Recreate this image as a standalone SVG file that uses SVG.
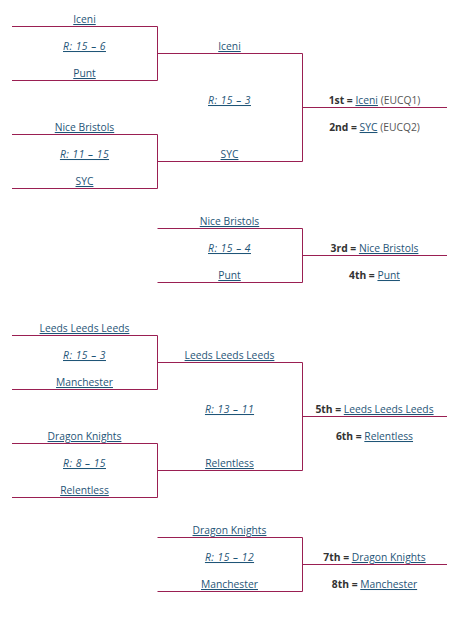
<svg xmlns="http://www.w3.org/2000/svg" width="457" height="619" viewBox="0 0 457 619">
<style>
.c line, .c polyline { stroke: #9a1f52; stroke-width: 1; fill: none; }
text { font-family: "Open Sans", "Noto Sans", "DejaVu Sans", sans-serif; font-size: 10.3px; text-anchor: middle; fill: #333333; }
.l { fill: #1f5577; text-decoration: underline; }
.s { fill: #1f5577; font-style: italic; text-decoration: underline; letter-spacing: 0.5px; }
.b { font-weight: bold; fill: #333333; }
.g { fill: #555555; }
</style>
<rect width="457" height="619" fill="#ffffff"/>
<g class="c" id="connectors">
  <polyline points="12,26.5 157.5,26.5 157.5,80.5 12,80.5"/>
  <polyline points="12,134.5 157.5,134.5 157.5,188.5 12,188.5"/>
  <polyline points="157.5,53.5 302.5,53.5 302.5,161.5 157.5,161.5"/>
  <line x1="302.5" y1="107.5" x2="447" y2="107.5"/>
  <polyline points="157.5,228.5 302.5,228.5 302.5,282.5 157.5,282.5"/>
  <line x1="302.5" y1="255.5" x2="447" y2="255.5"/>
  <polyline points="12,335.5 157.5,335.5 157.5,389.5 12,389.5"/>
  <polyline points="12,443.5 157.5,443.5 157.5,497.5 12,497.5"/>
  <polyline points="157.5,362.5 302.5,362.5 302.5,470.5 157.5,470.5"/>
  <line x1="302.5" y1="416.5" x2="447" y2="416.5"/>
  <polyline points="157.5,537.5 302.5,537.5 302.5,591.5 157.5,591.5"/>
  <line x1="302.5" y1="564.5" x2="447" y2="564.5"/>
</g>
<g id="m1">
  <text x="84.5" y="23" class="l">Iceni</text>
  <text x="84.5" y="50" class="s">R: 15 – 6</text>
  <text x="84.5" y="77" class="l">Punt</text>
</g>
<g id="m2">
  <text x="84.5" y="131" class="l">Nice Bristols</text>
  <text x="84.5" y="158" class="s">R: 11 – 15</text>
  <text x="84.5" y="185" class="l">SYC</text>
</g>
<g id="final">
  <text x="229.5" y="50" class="l">Iceni</text>
  <text x="229.5" y="104" class="s">R: 15 – 3</text>
  <text x="229.5" y="158" class="l">SYC</text>
</g>
<g id="result12">
  <text x="374.5" y="104"><tspan class="b">1st =</tspan> <tspan class="l">Iceni</tspan> <tspan class="g">(EUCQ1)</tspan></text>
  <text x="374.5" y="131"><tspan class="b">2nd =</tspan> <tspan class="l">SYC</tspan> <tspan class="g">(EUCQ2)</tspan></text>
</g>
<g id="third">
  <text x="229.5" y="225" class="l">Nice Bristols</text>
  <text x="229.5" y="252" class="s">R: 15 – 4</text>
  <text x="229.5" y="279" class="l">Punt</text>
</g>
<g id="result34">
  <text x="374.5" y="252"><tspan class="b">3rd =</tspan> <tspan class="l">Nice Bristols</tspan></text>
  <text x="374.5" y="279"><tspan class="b">4th =</tspan> <tspan class="l">Punt</tspan></text>
</g>
<g id="m3">
  <text x="84.5" y="332" class="l">Leeds Leeds Leeds</text>
  <text x="84.5" y="359" class="s">R: 15 – 3</text>
  <text x="84.5" y="386" class="l">Manchester</text>
</g>
<g id="m4">
  <text x="84.5" y="440" class="l">Dragon Knights</text>
  <text x="84.5" y="467" class="s">R: 8 – 15</text>
  <text x="84.5" y="494" class="l">Relentless</text>
</g>
<g id="fifth">
  <text x="229.5" y="359" class="l">Leeds Leeds Leeds</text>
  <text x="229.5" y="413" class="s">R: 13 – 11</text>
  <text x="229.5" y="467" class="l">Relentless</text>
</g>
<g id="result56">
  <text x="374.5" y="413"><tspan class="b">5th =</tspan> <tspan class="l">Leeds Leeds Leeds</tspan></text>
  <text x="374.5" y="440"><tspan class="b">6th =</tspan> <tspan class="l">Relentless</tspan></text>
</g>
<g id="seventh">
  <text x="229.5" y="534" class="l">Dragon Knights</text>
  <text x="229.5" y="561" class="s">R: 15 – 12</text>
  <text x="229.5" y="588" class="l">Manchester</text>
</g>
<g id="result78">
  <text x="374.5" y="561"><tspan class="b">7th =</tspan> <tspan class="l">Dragon Knights</tspan></text>
  <text x="374.5" y="588"><tspan class="b">8th =</tspan> <tspan class="l">Manchester</tspan></text>
</g>
</svg>
